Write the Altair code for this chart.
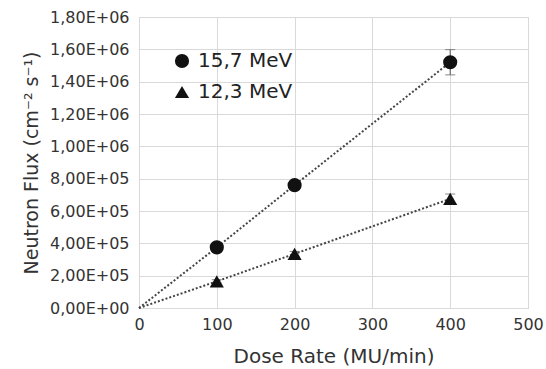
import altair as alt
import pandas as pd

series = ["15,7 MeV", "12,3 MeV"]
dose = [100, 200, 400]
flux_157 = [3.75e5, 7.6e5, 1.52e6]
err_157 = [1.5e4, 2.5e4, 7.8e4]
flux_123 = [1.65e5, 3.35e5, 6.75e5]
err_123 = [1.0e4, 1.5e4, 3.0e4]
y_ticks = [0, 2e5, 4e5, 6e5, 8e5, 1e6, 1.2e6, 1.4e6, 1.6e6, 1.8e6]
x_ticks = [0, 100, 200, 300, 400, 500]

rows = []
for s, fl, er in [(series[0], flux_157, err_157), (series[1], flux_123, err_123)]:
    for d, f, e in zip(dose, fl, er):
        rows.append({"series": s, "dose": d, "flux": f, "lo": f - e, "hi": f + e})
pts = pd.DataFrame(rows)

line_rows = []
for s, fl in [(series[0], flux_157), (series[1], flux_123)]:
    line_rows.append({"series": s, "dose": 0, "flux": 0.0})
    for d, f in zip(dose, fl):
        line_rows.append({"series": s, "dose": d, "flux": f})
lines = pd.DataFrame(line_rows)

FONT = "DejaVu Sans"
YTITLE = "Neutron Flux (cm⁻² s⁻¹)"
ylabel = ("datum.value == 0 ? '0,00E+00' : "
          "replace(format(datum.value / pow(10, floor(log(datum.value)/LN10 + 1e-9)), '.2f'), '.', ',')"
          " + 'E+' + (floor(log(datum.value)/LN10 + 1e-9) < 10 ? '0' : '')"
          " + floor(log(datum.value)/LN10 + 1e-9)")

xaxis = alt.Axis(values=x_ticks, title="Dose Rate (MU/min)",
                 titleFontSize=20, titleFont=FONT, titleFontWeight="normal", titleColor="#333",
                 labelFontSize=16, labelFont=FONT, labelColor="#333", ticks=False,
                 labelPadding=8, titlePadding=14, domainColor="#d9d9d9",
                 gridColor="#d9d9d9", labelOverlap=False, labelFlush=False)
yaxis = alt.Axis(values=y_ticks, labelExpr=ylabel,
                 title=YTITLE, titleFontSize=19, titleFont=FONT,
                 titleFontWeight="normal", titleColor="#333",
                 labelFontSize=16, labelFont=FONT, labelColor="#333", ticks=False,
                 labelPadding=10, titlePadding=8, domainColor="#d9d9d9",
                 gridColor="#d9d9d9", labelOverlap=False, labelFlush=False)
xs = alt.Scale(domain=[0, 500], nice=False)
ys = alt.Scale(domain=[0, 1.8e6], nice=False)

line = alt.Chart(lines).mark_line(strokeDash=[2, 2], strokeWidth=2, color="#444").encode(
    x=alt.X("dose:Q", scale=xs, axis=xaxis), y=alt.Y("flux:Q", scale=ys, axis=yaxis),
    detail="series:N")

err = alt.Chart(pts).mark_errorbar(ticks={"size": 10}, color="#555").encode(
    x=alt.X("dose:Q", scale=xs, axis=xaxis), y=alt.Y("lo:Q", scale=ys, axis=yaxis), y2="hi:Q")

shape_scale = alt.Scale(domain=series, range=["circle", "triangle-up"])
marks = alt.Chart(pts).mark_point(filled=True, size=200, color="#111", opacity=1).encode(
    x=alt.X("dose:Q", scale=xs, axis=xaxis), y=alt.Y("flux:Q", scale=ys, axis=yaxis),
    shape=alt.Shape("series:N", scale=shape_scale,
                    legend=alt.Legend(title=None, orient="none", legendX=33, legendY=34,
                                      labelFontSize=20, labelFont=FONT, labelColor="#222",
                                      symbolSize=200, symbolFillColor="#111", symbolStrokeColor="#111",
                                      rowPadding=10, labelOffset=6)))

chart = alt.layer(line, err, marks).properties(
    width=389, height=291,
    autosize=alt.AutoSizeParams(type="none"),
    padding={"left": 139, "top": 17, "right": 18, "bottom": 61},
).configure_view(stroke=None).configure(background="white")

chart.save("out.html", embed_options={"renderer": "svg", "actions": False})
